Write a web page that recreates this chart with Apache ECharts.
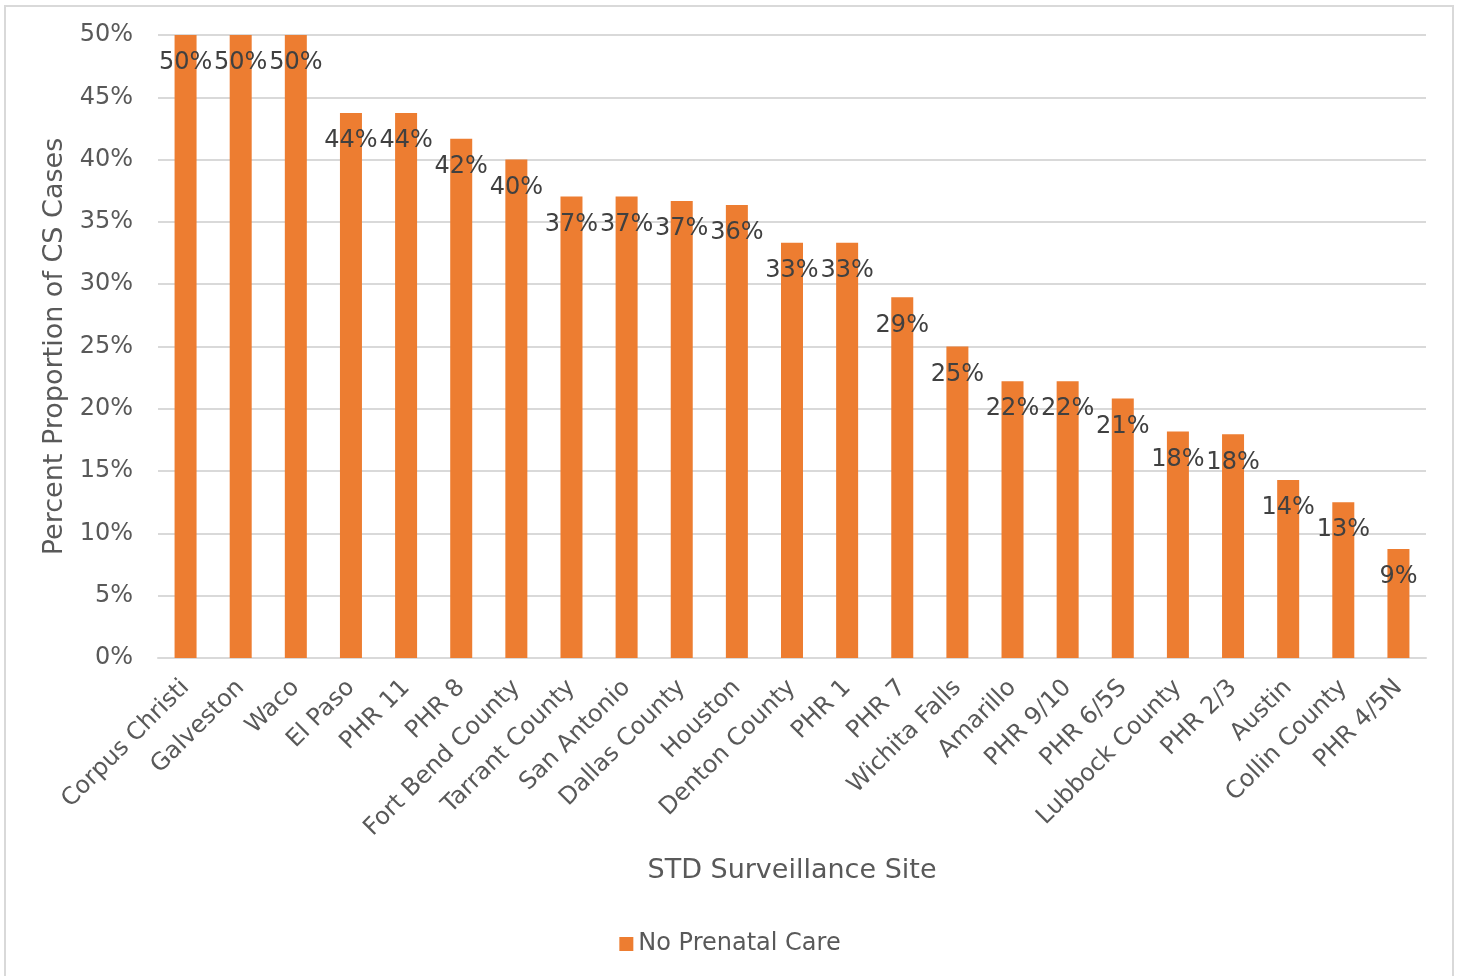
<!DOCTYPE html>
<html>
<head>
<meta charset="utf-8">
<script src="https://cdn.jsdelivr.net/npm/echarts@6/dist/echarts.min.js"></script>
<style>
  html, body { margin: 0; padding: 0; background: #fff; }
  #frame { position: absolute; left: 4px; top: 5px; width: 1450px; height: 975px; border: 2px solid #d9d9d9; box-sizing: border-box; }
  #chart { position: absolute; left: 0; top: 0; width: 1460px; height: 976px; }
</style>
</head>
<body>
<div id="frame"></div>
<div id="chart"></div>
<script>
const categories = ["Corpus Christi", "Galveston", "Waco", "El Paso", "PHR 11", "PHR 8", "Fort Bend County", "Tarrant County", "San Antonio", "Dallas County", "Houston", "Denton County", "PHR 1", "PHR 7", "Wichita Falls", "Amarillo", "PHR 9/10", "PHR 6/5S", "Lubbock County", "PHR 2/3", "Austin", "Collin County", "PHR 4/5N"];
const noPrenatalCare = [50, 50, 50, 43.75, 43.75, 41.67, 40, 37.04, 37.04, 36.67, 36.36, 33.33, 33.33, 28.95, 25, 22.22, 22.22, 20.83, 18.18, 17.95, 14.29, 12.5, 8.75];
const seriesName = "No Prenatal Care";
const yAxisTitle = "Percent Proportion of CS Cases";
const xAxisTitle = "STD Surveillance Site";

const FONT = "DejaVu Sans";
const chart = echarts.init(document.getElementById('chart'), null, { renderer: 'canvas' });
chart.setOption({
  backgroundColor: 'transparent',
  textStyle: { fontFamily: FONT },
  animation: false,
  grid: { left: 158, right: 34, top: 35, bottom: 318, containLabel: false },
  legend: {
    data: [seriesName],
    left: 'center', top: 927,
    icon: 'rect', itemWidth: 14, itemHeight: 14, itemGap: 6,
    textStyle: { fontFamily: FONT, fontSize: 24, color: '#595959' }
  },
  xAxis: {
    type: 'category',
    data: categories,
    name: xAxisTitle,
    nameLocation: 'middle',
    nameGap: 199,
    nameTextStyle: { fontFamily: FONT, fontSize: 27, color: '#595959' },
    axisLine: { show: true, lineStyle: { color: '#d9d9d9', width: 2 } },
    axisTick: { show: false },
    axisLabel: { interval: 0, rotate: 45, fontFamily: FONT, fontSize: 24, color: '#595959', margin: 26 }
  },
  yAxis: {
    type: 'value',
    min: 0, max: 50, interval: 5,
    name: yAxisTitle,
    nameLocation: 'middle',
    nameGap: 88,
    nameTextStyle: { fontFamily: FONT, fontSize: 27, color: '#595959' },
    axisLine: { show: false },
    axisTick: { show: false },
    axisLabel: { formatter: '{value}%', fontFamily: FONT, fontSize: 24, color: '#595959', margin: 25 },
    splitLine: { lineStyle: { color: '#d9d9d9', width: 2 } }
  },
  series: [{
    name: seriesName,
    type: 'bar',
    data: noPrenatalCare,
    barWidth: 22,
    itemStyle: { color: '#ED7D31' },
    label: {
      show: true,
      position: 'insideTop',
      distance: 16,
      formatter: p => Math.round(p.value) + '%',
      fontFamily: FONT, fontSize: 24, color: '#404040'
    }
  }]
});
</script>
</body>
</html>
